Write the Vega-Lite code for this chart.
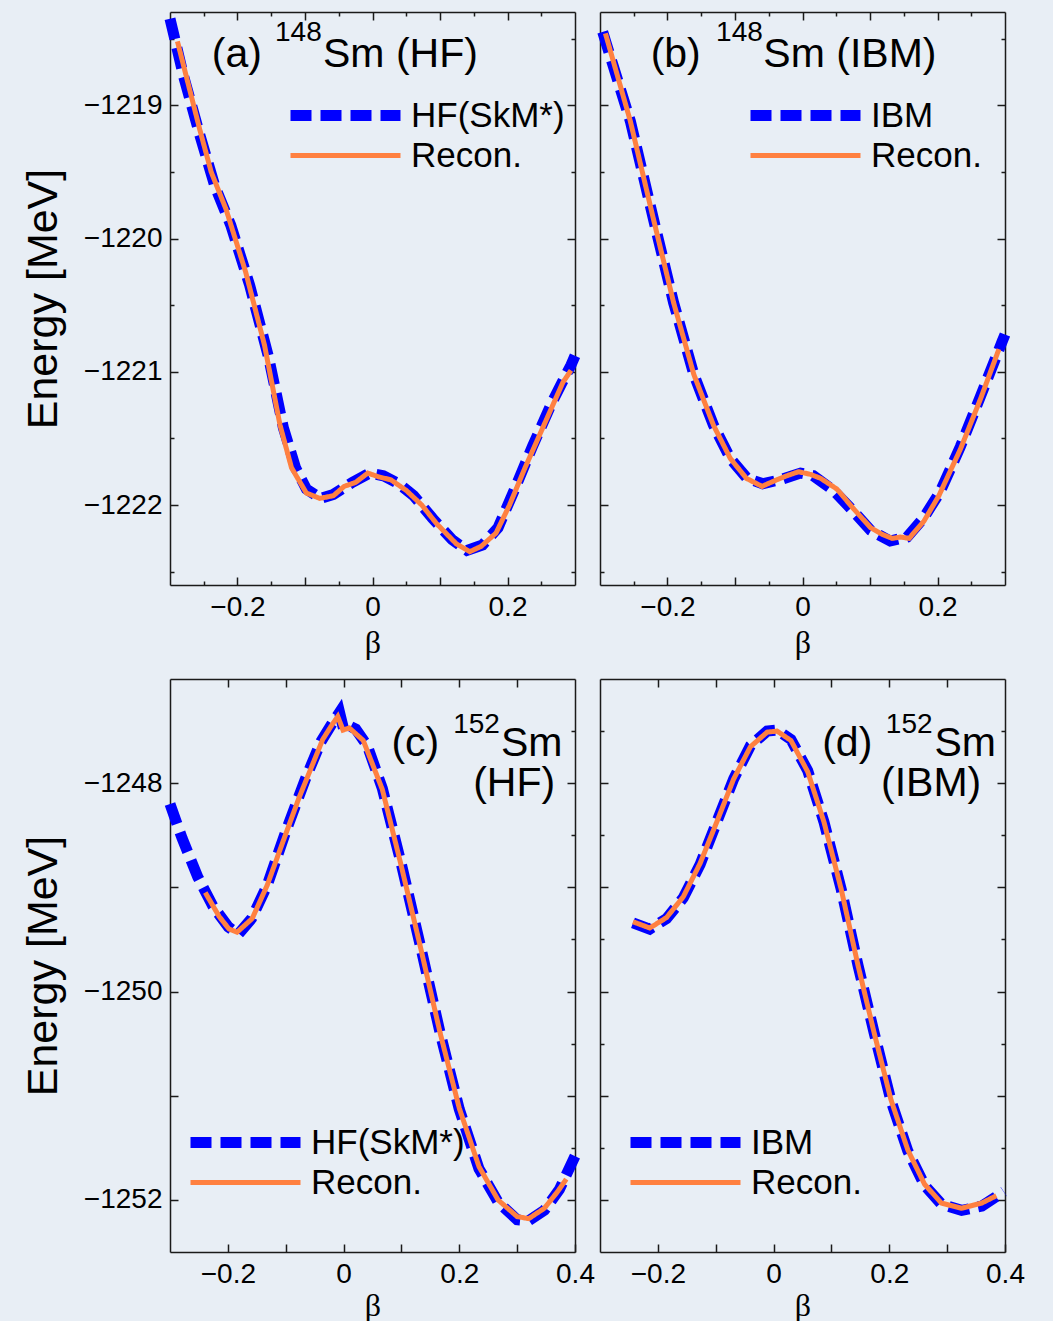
{
"$schema": "https://vega.github.io/schema/vega-lite/v6.json",
"background": "#e8eef5",
"padding": {"left": 22, "top": -4, "right": 30, "bottom": 0},
"config": {
  "view": {"stroke": null},
  "font": "Liberation Sans",
  "axis": {"domainColor": "#1a1a1a", "domainWidth": 1.5, "tickColor": "#1a1a1a", "tickWidth": 1.5, "labelFont": "Liberation Sans", "labelFontSize": 28, "labelColor": "#000000", "titleColor": "#000000", "titleFontWeight": "normal", "labelFlush": false, "labelOverlap": false, "grid": false},
  "legend": {"orient": "none", "title": null, "symbolType": "stroke", "symbolSize": 12100, "clipHeight": 39, "rowPadding": 1, "padding": 0, "labelFont": "Liberation Sans", "labelFontSize": 35, "labelColor": "#000000", "labelOffset": 5}
},
"datasets": {
  "one": [{}],
  "a": [
    {"series": "HF(SkM*)", "beta": -0.300, "E": -1218.35}, {"series": "HF(SkM*)", "beta": -0.280, "E": -1218.78}, {"series": "HF(SkM*)", "beta": -0.256, "E": -1219.22}, {"series": "HF(SkM*)", "beta": -0.234, "E": -1219.60}, {"series": "HF(SkM*)", "beta": -0.210, "E": -1219.90}, {"series": "HF(SkM*)", "beta": -0.182, "E": -1220.35}, {"series": "HF(SkM*)", "beta": -0.154, "E": -1220.89}, {"series": "HF(SkM*)", "beta": -0.132, "E": -1221.42}, {"series": "HF(SkM*)", "beta": -0.114, "E": -1221.72}, {"series": "HF(SkM*)", "beta": -0.098, "E": -1221.88}, {"series": "HF(SkM*)", "beta": -0.077, "E": -1221.95}, {"series": "HF(SkM*)", "beta": -0.058, "E": -1221.92}, {"series": "HF(SkM*)", "beta": -0.030, "E": -1221.83}, {"series": "HF(SkM*)", "beta": -0.004, "E": -1221.76}, {"series": "HF(SkM*)", "beta": 0.016, "E": -1221.78}, {"series": "HF(SkM*)", "beta": 0.039, "E": -1221.84}, {"series": "HF(SkM*)", "beta": 0.061, "E": -1221.93}, {"series": "HF(SkM*)", "beta": 0.089, "E": -1222.10}, {"series": "HF(SkM*)", "beta": 0.118, "E": -1222.26}, {"series": "HF(SkM*)", "beta": 0.140, "E": -1222.34}, {"series": "HF(SkM*)", "beta": 0.163, "E": -1222.30}, {"series": "HF(SkM*)", "beta": 0.186, "E": -1222.17}, {"series": "HF(SkM*)", "beta": 0.209, "E": -1221.90}, {"series": "HF(SkM*)", "beta": 0.237, "E": -1221.56}, {"series": "HF(SkM*)", "beta": 0.265, "E": -1221.24}, {"series": "HF(SkM*)", "beta": 0.294, "E": -1220.95}, {"series": "HF(SkM*)", "beta": 0.300, "E": -1220.88},
    {"series": "Recon.", "beta": -0.289, "E": -1218.52}, {"series": "Recon.", "beta": -0.256, "E": -1219.18}, {"series": "Recon.", "beta": -0.239, "E": -1219.50}, {"series": "Recon.", "beta": -0.217, "E": -1219.78}, {"series": "Recon.", "beta": -0.188, "E": -1220.25}, {"series": "Recon.", "beta": -0.160, "E": -1220.80}, {"series": "Recon.", "beta": -0.137, "E": -1221.40}, {"series": "Recon.", "beta": -0.120, "E": -1221.72}, {"series": "Recon.", "beta": -0.098, "E": -1221.91}, {"series": "Recon.", "beta": -0.078, "E": -1221.95}, {"series": "Recon.", "beta": -0.058, "E": -1221.93}, {"series": "Recon.", "beta": -0.042, "E": -1221.86}, {"series": "Recon.", "beta": -0.025, "E": -1221.83}, {"series": "Recon.", "beta": -0.007, "E": -1221.76}, {"series": "Recon.", "beta": 0.010, "E": -1221.79}, {"series": "Recon.", "beta": 0.027, "E": -1221.81}, {"series": "Recon.", "beta": 0.050, "E": -1221.89}, {"series": "Recon.", "beta": 0.073, "E": -1222.00}, {"series": "Recon.", "beta": 0.095, "E": -1222.14}, {"series": "Recon.", "beta": 0.124, "E": -1222.29}, {"series": "Recon.", "beta": 0.144, "E": -1222.35}, {"series": "Recon.", "beta": 0.161, "E": -1222.31}, {"series": "Recon.", "beta": 0.183, "E": -1222.21}, {"series": "Recon.", "beta": 0.203, "E": -1222.00}, {"series": "Recon.", "beta": 0.226, "E": -1221.72}, {"series": "Recon.", "beta": 0.254, "E": -1221.40}, {"series": "Recon.", "beta": 0.282, "E": -1221.08}, {"series": "Recon.", "beta": 0.294, "E": -1220.99}
  ],
  "b": [
    {"series": "IBM", "beta": -0.296, "E": -1218.45}, {"series": "IBM", "beta": -0.255, "E": -1219.12}, {"series": "IBM", "beta": -0.221, "E": -1219.85}, {"series": "IBM", "beta": -0.191, "E": -1220.48}, {"series": "IBM", "beta": -0.161, "E": -1221.02}, {"series": "IBM", "beta": -0.132, "E": -1221.40}, {"series": "IBM", "beta": -0.107, "E": -1221.65}, {"series": "IBM", "beta": -0.082, "E": -1221.80}, {"series": "IBM", "beta": -0.059, "E": -1221.84}, {"series": "IBM", "beta": -0.033, "E": -1221.81}, {"series": "IBM", "beta": -0.003, "E": -1221.76}, {"series": "IBM", "beta": 0.016, "E": -1221.78}, {"series": "IBM", "beta": 0.046, "E": -1221.89}, {"series": "IBM", "beta": 0.076, "E": -1222.05}, {"series": "IBM", "beta": 0.101, "E": -1222.19}, {"series": "IBM", "beta": 0.130, "E": -1222.27}, {"series": "IBM", "beta": 0.155, "E": -1222.24}, {"series": "IBM", "beta": 0.179, "E": -1222.10}, {"series": "IBM", "beta": 0.204, "E": -1221.90}, {"series": "IBM", "beta": 0.234, "E": -1221.56}, {"series": "IBM", "beta": 0.264, "E": -1221.18}, {"series": "IBM", "beta": 0.296, "E": -1220.77}, {"series": "IBM", "beta": 0.300, "E": -1220.72},
    {"series": "Recon.", "beta": -0.292, "E": -1218.46}, {"series": "Recon.", "beta": -0.255, "E": -1219.12}, {"series": "Recon.", "beta": -0.221, "E": -1219.85}, {"series": "Recon.", "beta": -0.191, "E": -1220.48}, {"series": "Recon.", "beta": -0.161, "E": -1221.02}, {"series": "Recon.", "beta": -0.132, "E": -1221.40}, {"series": "Recon.", "beta": -0.107, "E": -1221.65}, {"series": "Recon.", "beta": -0.083, "E": -1221.80}, {"series": "Recon.", "beta": -0.060, "E": -1221.86}, {"series": "Recon.", "beta": -0.038, "E": -1221.81}, {"series": "Recon.", "beta": -0.023, "E": -1221.78}, {"series": "Recon.", "beta": -0.006, "E": -1221.75}, {"series": "Recon.", "beta": 0.012, "E": -1221.77}, {"series": "Recon.", "beta": 0.027, "E": -1221.80}, {"series": "Recon.", "beta": 0.051, "E": -1221.88}, {"series": "Recon.", "beta": 0.076, "E": -1222.03}, {"series": "Recon.", "beta": 0.101, "E": -1222.17}, {"series": "Recon.", "beta": 0.118, "E": -1222.22}, {"series": "Recon.", "beta": 0.133, "E": -1222.25}, {"series": "Recon.", "beta": 0.145, "E": -1222.24}, {"series": "Recon.", "beta": 0.158, "E": -1222.25}, {"series": "Recon.", "beta": 0.180, "E": -1222.12}, {"series": "Recon.", "beta": 0.202, "E": -1221.93}, {"series": "Recon.", "beta": 0.234, "E": -1221.58}, {"series": "Recon.", "beta": 0.264, "E": -1221.20}, {"series": "Recon.", "beta": 0.291, "E": -1220.83}
  ],
  "c": [
    {"series": "HF(SkM*)", "beta": -0.300, "E": -1248.20}, {"series": "HF(SkM*)", "beta": -0.279, "E": -1248.53}, {"series": "HF(SkM*)", "beta": -0.252, "E": -1248.90}, {"series": "HF(SkM*)", "beta": -0.226, "E": -1249.18}, {"series": "HF(SkM*)", "beta": -0.199, "E": -1249.38}, {"series": "HF(SkM*)", "beta": -0.182, "E": -1249.45}, {"series": "HF(SkM*)", "beta": -0.159, "E": -1249.30}, {"series": "HF(SkM*)", "beta": -0.132, "E": -1248.98}, {"series": "HF(SkM*)", "beta": -0.099, "E": -1248.45}, {"series": "HF(SkM*)", "beta": -0.066, "E": -1247.96}, {"series": "HF(SkM*)", "beta": -0.039, "E": -1247.60}, {"series": "HF(SkM*)", "beta": -0.019, "E": -1247.42}, {"series": "HF(SkM*)", "beta": -0.007, "E": -1247.32}, {"series": "HF(SkM*)", "beta": 0.000, "E": -1247.48}, {"series": "HF(SkM*)", "beta": 0.010, "E": -1247.45}, {"series": "HF(SkM*)", "beta": 0.021, "E": -1247.48}, {"series": "HF(SkM*)", "beta": 0.041, "E": -1247.64}, {"series": "HF(SkM*)", "beta": 0.067, "E": -1248.05}, {"series": "HF(SkM*)", "beta": 0.100, "E": -1248.78}, {"series": "HF(SkM*)", "beta": 0.134, "E": -1249.59}, {"series": "HF(SkM*)", "beta": 0.167, "E": -1250.40}, {"series": "HF(SkM*)", "beta": 0.200, "E": -1251.13}, {"series": "HF(SkM*)", "beta": 0.234, "E": -1251.70}, {"series": "HF(SkM*)", "beta": 0.267, "E": -1252.02}, {"series": "HF(SkM*)", "beta": 0.300, "E": -1252.19}, {"series": "HF(SkM*)", "beta": 0.320, "E": -1252.20}, {"series": "HF(SkM*)", "beta": 0.347, "E": -1252.10}, {"series": "HF(SkM*)", "beta": 0.373, "E": -1251.90}, {"series": "HF(SkM*)", "beta": 0.400, "E": -1251.58},
    {"series": "Recon.", "beta": -0.239, "E": -1249.05}, {"series": "Recon.", "beta": -0.215, "E": -1249.28}, {"series": "Recon.", "beta": -0.198, "E": -1249.40}, {"series": "Recon.", "beta": -0.184, "E": -1249.43}, {"series": "Recon.", "beta": -0.158, "E": -1249.30}, {"series": "Recon.", "beta": -0.132, "E": -1248.98}, {"series": "Recon.", "beta": -0.106, "E": -1248.58}, {"series": "Recon.", "beta": -0.077, "E": -1248.14}, {"series": "Recon.", "beta": -0.036, "E": -1247.58}, {"series": "Recon.", "beta": -0.020, "E": -1247.44}, {"series": "Recon.", "beta": -0.010, "E": -1247.36}, {"series": "Recon.", "beta": -0.001, "E": -1247.49}, {"series": "Recon.", "beta": 0.010, "E": -1247.47}, {"series": "Recon.", "beta": 0.034, "E": -1247.59}, {"series": "Recon.", "beta": 0.067, "E": -1248.06}, {"series": "Recon.", "beta": 0.100, "E": -1248.80}, {"series": "Recon.", "beta": 0.134, "E": -1249.60}, {"series": "Recon.", "beta": 0.167, "E": -1250.40}, {"series": "Recon.", "beta": 0.200, "E": -1251.12}, {"series": "Recon.", "beta": 0.234, "E": -1251.68}, {"series": "Recon.", "beta": 0.267, "E": -1252.00}, {"series": "Recon.", "beta": 0.300, "E": -1252.16}, {"series": "Recon.", "beta": 0.320, "E": -1252.18}, {"series": "Recon.", "beta": 0.347, "E": -1252.08}, {"series": "Recon.", "beta": 0.370, "E": -1251.92}, {"series": "Recon.", "beta": 0.385, "E": -1251.80}
  ],
  "d": [
    {"series": "IBM", "beta": -0.243, "E": -1249.34}, {"series": "IBM", "beta": -0.214, "E": -1249.40}, {"series": "IBM", "beta": -0.185, "E": -1249.30}, {"series": "IBM", "beta": -0.156, "E": -1249.10}, {"series": "IBM", "beta": -0.127, "E": -1248.78}, {"series": "IBM", "beta": -0.098, "E": -1248.37}, {"series": "IBM", "beta": -0.069, "E": -1247.96}, {"series": "IBM", "beta": -0.040, "E": -1247.64}, {"series": "IBM", "beta": -0.011, "E": -1247.50}, {"series": "IBM", "beta": 0.006, "E": -1247.49}, {"series": "IBM", "beta": 0.030, "E": -1247.58}, {"series": "IBM", "beta": 0.059, "E": -1247.88}, {"series": "IBM", "beta": 0.087, "E": -1248.37}, {"series": "IBM", "beta": 0.117, "E": -1249.02}, {"series": "IBM", "beta": 0.146, "E": -1249.75}, {"series": "IBM", "beta": 0.174, "E": -1250.40}, {"series": "IBM", "beta": 0.203, "E": -1251.05}, {"series": "IBM", "beta": 0.232, "E": -1251.53}, {"series": "IBM", "beta": 0.261, "E": -1251.86}, {"series": "IBM", "beta": 0.290, "E": -1252.04}, {"series": "IBM", "beta": 0.325, "E": -1252.10}, {"series": "IBM", "beta": 0.360, "E": -1252.06}, {"series": "IBM", "beta": 0.398, "E": -1251.92},
    {"series": "Recon.", "beta": -0.243, "E": -1249.33}, {"series": "Recon.", "beta": -0.214, "E": -1249.39}, {"series": "Recon.", "beta": -0.185, "E": -1249.29}, {"series": "Recon.", "beta": -0.156, "E": -1249.09}, {"series": "Recon.", "beta": -0.127, "E": -1248.77}, {"series": "Recon.", "beta": -0.098, "E": -1248.37}, {"series": "Recon.", "beta": -0.069, "E": -1247.96}, {"series": "Recon.", "beta": -0.040, "E": -1247.65}, {"series": "Recon.", "beta": -0.011, "E": -1247.51}, {"series": "Recon.", "beta": 0.006, "E": -1247.50}, {"series": "Recon.", "beta": 0.030, "E": -1247.59}, {"series": "Recon.", "beta": 0.059, "E": -1247.89}, {"series": "Recon.", "beta": 0.087, "E": -1248.37}, {"series": "Recon.", "beta": 0.117, "E": -1249.02}, {"series": "Recon.", "beta": 0.146, "E": -1249.75}, {"series": "Recon.", "beta": 0.174, "E": -1250.40}, {"series": "Recon.", "beta": 0.203, "E": -1251.04}, {"series": "Recon.", "beta": 0.232, "E": -1251.52}, {"series": "Recon.", "beta": 0.261, "E": -1251.85}, {"series": "Recon.", "beta": 0.290, "E": -1252.03}, {"series": "Recon.", "beta": 0.325, "E": -1252.08}, {"series": "Recon.", "beta": 0.360, "E": -1252.03}, {"series": "Recon.", "beta": 0.385, "E": -1251.96}
  ]
},
"columns": 2,
"spacing": {"row": 94, "column": 25},
"bounds": "flush",
"resolve": {"scale": {"x": "independent", "y": "independent", "color": "independent", "strokeDash": "independent", "strokeWidth": "independent"}},
"concat": [
  {
    "width": 405, "height": 573,
    "data": {"name": "a"},
    "resolve": {"axis": {"x": "independent", "y": "independent"}},
    "layer": [
      {"mark": {"type": "line"},
       "encoding": {
         "x": {"field": "beta", "type": "quantitative", "scale": {"domain": [-0.3, 0.3], "nice": false, "zero": false},
               "axis": {"orient": "bottom", "values": [-0.25,-0.2,-0.15,-0.1,-0.05,0,0.05,0.1,0.15,0.2,0.25], "format": ".1~f", "labelExpr": "abs(datum.value*5-round(datum.value*5))<1e-6 ? datum.label : ''", "tickSize": {"condition": {"test": "abs(datum.value*10-round(datum.value*10))<1e-6", "value": -8}, "value": -4}, "labelPadding": 16, "title": "β", "titleFont": "Liberation Serif", "titleFontSize": 32, "titlePadding": 2}},
         "y": {"field": "E", "type": "quantitative", "scale": {"domain": [-1222.6, -1218.3], "nice": false, "zero": false},
               "axis": {"orient": "left", "values": [-1222, -1221, -1220, -1219], "format": "d", "tickSize": -8, "labelPadding": 16, "title": "Energy [MeV]", "titleFontSize": 43, "titlePadding": 18}},
         "color": {"field": "series", "type": "nominal", "scale": {"domain": ["HF(SkM*)", "Recon."], "range": ["#0000ff", "#ff8040"]}, "legend": {"legendX": 115, "legendY": 84}},
         "strokeDash": {"field": "series", "type": "nominal", "scale": {"domain": ["HF(SkM*)", "Recon."], "range": [[21, 9], [1, 0]]}},
         "strokeWidth": {"field": "series", "type": "nominal", "scale": {"domain": ["HF(SkM*)", "Recon."], "range": [11, 5]}}
       }},
      {"mark": {"type": "line", "strokeOpacity": 0},
       "encoding": {
         "x": {"field": "beta", "type": "quantitative", "scale": {"domain": [-0.3, 0.3], "nice": false, "zero": false},
               "axis": {"orient": "top", "values": [-0.25,-0.2,-0.15,-0.1,-0.05,0,0.05,0.1,0.15,0.2,0.25], "labels": false, "title": null, "tickSize": {"condition": {"test": "abs(datum.value*10-round(datum.value*10))<1e-6", "value": -8}, "value": -4}}},
         "y": {"field": "E", "type": "quantitative", "scale": {"domain": [-1222.6, -1218.3], "nice": false, "zero": false},
               "axis": {"orient": "right", "values": [-1222.5,-1222,-1221.5,-1221,-1220.5,-1220,-1219.5,-1219,-1218.5], "labels": false, "title": null, "tickSize": {"condition": {"test": "abs(datum.value-round(datum.value))<1e-6", "value": -8}, "value": -4}}},
         "detail": {"field": "series", "type": "nominal"}
       }},
      {"mark": {"type": "line", "strokeOpacity": 0},
       "encoding": {
         "x": {"field": "beta", "type": "quantitative", "scale": {"domain": [-0.3, 0.3], "nice": false, "zero": false}, "axis": null},
         "y": {"field": "E", "type": "quantitative", "scale": {"domain": [-1222.6, -1218.3], "nice": false, "zero": false},
               "axis": {"orient": "left", "values": [-1222.5,-1221.5,-1220.5,-1219.5,-1218.5], "labels": false, "domain": false, "title": null, "tickSize": -4}},
         "detail": {"field": "series", "type": "nominal"}
       }},
      {"data": {"name": "one"}, "mark": {"type": "text", "text": "(a)", "align": "left", "baseline": "alphabetic", "fontSize": 41, "fill": "#000000"},
       "encoding": {"x": {"datum": -0.238, "type": "quantitative", "scale": {"domain": [-0.3, 0.3], "nice": false, "zero": false}, "axis": null}, "y": {"datum": -1218.71, "type": "quantitative", "scale": {"domain": [-1222.6, -1218.3], "nice": false, "zero": false}, "axis": null}}},
      {"data": {"name": "one"}, "mark": {"type": "text", "text": "148", "align": "left", "baseline": "alphabetic", "fontSize": 28, "fill": "#000000"},
       "encoding": {"x": {"datum": -0.1444, "type": "quantitative", "scale": {"domain": [-0.3, 0.3], "nice": false, "zero": false}, "axis": null}, "y": {"datum": -1218.52, "type": "quantitative", "scale": {"domain": [-1222.6, -1218.3], "nice": false, "zero": false}, "axis": null}}},
      {"data": {"name": "one"}, "mark": {"type": "text", "text": "Sm (HF)", "align": "left", "baseline": "alphabetic", "fontSize": 41, "fill": "#000000"},
       "encoding": {"x": {"datum": -0.0733, "type": "quantitative", "scale": {"domain": [-0.3, 0.3], "nice": false, "zero": false}, "axis": null}, "y": {"datum": -1218.71, "type": "quantitative", "scale": {"domain": [-1222.6, -1218.3], "nice": false, "zero": false}, "axis": null}}}
    ]
  },
  {
    "width": 405, "height": 573,
    "data": {"name": "b"},
    "resolve": {"axis": {"x": "independent", "y": "independent"}},
    "layer": [
      {"mark": {"type": "line"},
       "encoding": {
         "x": {"field": "beta", "type": "quantitative", "scale": {"domain": [-0.3, 0.3], "nice": false, "zero": false},
               "axis": {"orient": "bottom", "values": [-0.25,-0.2,-0.15,-0.1,-0.05,0,0.05,0.1,0.15,0.2,0.25], "format": ".1~f", "labelExpr": "abs(datum.value*5-round(datum.value*5))<1e-6 ? datum.label : ''", "tickSize": {"condition": {"test": "abs(datum.value*10-round(datum.value*10))<1e-6", "value": -8}, "value": -4}, "labelPadding": 16, "title": "β", "titleFont": "Liberation Serif", "titleFontSize": 32, "titlePadding": 2}},
         "y": {"field": "E", "type": "quantitative", "scale": {"domain": [-1222.6, -1218.3], "nice": false, "zero": false},
               "axis": {"orient": "left", "values": [-1222.5,-1222,-1221.5,-1221,-1220.5,-1220,-1219.5,-1219,-1218.5], "labels": false, "title": null, "tickSize": {"condition": {"test": "abs(datum.value-round(datum.value))<1e-6", "value": -8}, "value": -4}}},
         "color": {"field": "series", "type": "nominal", "scale": {"domain": ["IBM", "Recon."], "range": ["#0000ff", "#ff8040"]}, "legend": {"legendX": 145, "legendY": 84}},
         "strokeDash": {"field": "series", "type": "nominal", "scale": {"domain": ["IBM", "Recon."], "range": [[21, 9], [1, 0]]}},
         "strokeWidth": {"field": "series", "type": "nominal", "scale": {"domain": ["IBM", "Recon."], "range": [11, 5]}}
       }},
      {"mark": {"type": "line", "strokeOpacity": 0},
       "encoding": {
         "x": {"field": "beta", "type": "quantitative", "scale": {"domain": [-0.3, 0.3], "nice": false, "zero": false},
               "axis": {"orient": "top", "values": [-0.25,-0.2,-0.15,-0.1,-0.05,0,0.05,0.1,0.15,0.2,0.25], "labels": false, "title": null, "tickSize": {"condition": {"test": "abs(datum.value*10-round(datum.value*10))<1e-6", "value": -8}, "value": -4}}},
         "y": {"field": "E", "type": "quantitative", "scale": {"domain": [-1222.6, -1218.3], "nice": false, "zero": false},
               "axis": {"orient": "right", "values": [-1222.5,-1222,-1221.5,-1221,-1220.5,-1220,-1219.5,-1219,-1218.5], "labels": false, "title": null, "tickSize": {"condition": {"test": "abs(datum.value-round(datum.value))<1e-6", "value": -8}, "value": -4}}},
         "detail": {"field": "series", "type": "nominal"}
       }},
      {"data": {"name": "one"}, "mark": {"type": "text", "text": "(b)", "align": "left", "baseline": "alphabetic", "fontSize": 41, "fill": "#000000"},
       "encoding": {"x": {"datum": -0.225, "type": "quantitative", "scale": {"domain": [-0.3, 0.3], "nice": false, "zero": false}, "axis": null}, "y": {"datum": -1218.71, "type": "quantitative", "scale": {"domain": [-1222.6, -1218.3], "nice": false, "zero": false}, "axis": null}}},
      {"data": {"name": "one"}, "mark": {"type": "text", "text": "148", "align": "left", "baseline": "alphabetic", "fontSize": 28, "fill": "#000000"},
       "encoding": {"x": {"datum": -0.128, "type": "quantitative", "scale": {"domain": [-0.3, 0.3], "nice": false, "zero": false}, "axis": null}, "y": {"datum": -1218.52, "type": "quantitative", "scale": {"domain": [-1222.6, -1218.3], "nice": false, "zero": false}, "axis": null}}},
      {"data": {"name": "one"}, "mark": {"type": "text", "text": "Sm (IBM)", "align": "left", "baseline": "alphabetic", "fontSize": 41, "fill": "#000000"},
       "encoding": {"x": {"datum": -0.058, "type": "quantitative", "scale": {"domain": [-0.3, 0.3], "nice": false, "zero": false}, "axis": null}, "y": {"datum": -1218.71, "type": "quantitative", "scale": {"domain": [-1222.6, -1218.3], "nice": false, "zero": false}, "axis": null}}}
    ]
  },
  {
    "width": 405, "height": 573,
    "data": {"name": "c"},
    "resolve": {"axis": {"x": "independent", "y": "independent"}},
    "layer": [
      {"mark": {"type": "line"},
       "encoding": {
         "x": {"field": "beta", "type": "quantitative", "scale": {"domain": [-0.3, 0.4], "nice": false, "zero": false},
               "axis": {"orient": "bottom", "values": [-0.2,-0.1,0,0.1,0.2,0.3,0.4], "format": ".1~f", "labelExpr": "abs(datum.value*5-round(datum.value*5))<1e-6 ? datum.label : ''", "tickSize": -8, "labelPadding": 16, "title": "β", "titleFont": "Liberation Serif", "titleFontSize": 32, "titlePadding": 2}},
         "y": {"field": "E", "type": "quantitative", "scale": {"domain": [-1252.5, -1247], "nice": false, "zero": false},
               "axis": {"orient": "left", "values": [-1252,-1251.5,-1251,-1250.5,-1250,-1249.5,-1249,-1248.5,-1248,-1247.5], "format": "d", "labelExpr": "datum.value % 2 == 0 ? datum.label : ''", "tickSize": {"condition": {"test": "abs(datum.value-round(datum.value))<1e-6", "value": -8}, "value": -4}, "labelPadding": 16, "title": "Energy [MeV]", "titleFontSize": 43, "titlePadding": 18}},
         "color": {"field": "series", "type": "nominal", "scale": {"domain": ["HF(SkM*)", "Recon."], "range": ["#0000ff", "#ff8040"]}, "legend": {"legendX": 15, "legendY": 444}},
         "strokeDash": {"field": "series", "type": "nominal", "scale": {"domain": ["HF(SkM*)", "Recon."], "range": [[21, 9], [1, 0]]}},
         "strokeWidth": {"field": "series", "type": "nominal", "scale": {"domain": ["HF(SkM*)", "Recon."], "range": [11, 5]}}
       }},
      {"mark": {"type": "line", "strokeOpacity": 0},
       "encoding": {
         "x": {"field": "beta", "type": "quantitative", "scale": {"domain": [-0.3, 0.4], "nice": false, "zero": false},
               "axis": {"orient": "top", "values": [-0.2,-0.1,0,0.1,0.2,0.3], "labels": false, "title": null, "tickSize": -8}},
         "y": {"field": "E", "type": "quantitative", "scale": {"domain": [-1252.5, -1247], "nice": false, "zero": false},
               "axis": {"orient": "right", "values": [-1252,-1251.5,-1251,-1250.5,-1250,-1249.5,-1249,-1248.5,-1248,-1247.5], "labels": false, "title": null, "tickSize": {"condition": {"test": "abs(datum.value-round(datum.value))<1e-6", "value": -8}, "value": -4}}},
         "detail": {"field": "series", "type": "nominal"}
       }},
      {"data": {"name": "one"}, "mark": {"type": "text", "text": "(c)", "align": "left", "baseline": "alphabetic", "fontSize": 41, "fill": "#000000"},
       "encoding": {"x": {"datum": 0.0827, "type": "quantitative", "scale": {"domain": [-0.3, 0.4], "nice": false, "zero": false}, "axis": null}, "y": {"datum": -1247.735, "type": "quantitative", "scale": {"domain": [-1252.5, -1247], "nice": false, "zero": false}, "axis": null}}},
      {"data": {"name": "one"}, "mark": {"type": "text", "text": "152", "align": "left", "baseline": "alphabetic", "fontSize": 28, "fill": "#000000"},
       "encoding": {"x": {"datum": 0.1894, "type": "quantitative", "scale": {"domain": [-0.3, 0.4], "nice": false, "zero": false}, "axis": null}, "y": {"datum": -1247.514, "type": "quantitative", "scale": {"domain": [-1252.5, -1247], "nice": false, "zero": false}, "axis": null}}},
      {"data": {"name": "one"}, "mark": {"type": "text", "text": "Sm", "align": "left", "baseline": "alphabetic", "fontSize": 41, "fill": "#000000"},
       "encoding": {"x": {"datum": 0.272, "type": "quantitative", "scale": {"domain": [-0.3, 0.4], "nice": false, "zero": false}, "axis": null}, "y": {"datum": -1247.735, "type": "quantitative", "scale": {"domain": [-1252.5, -1247], "nice": false, "zero": false}, "axis": null}}},
      {"data": {"name": "one"}, "mark": {"type": "text", "text": "(HF)", "align": "right", "baseline": "alphabetic", "fontSize": 41, "fill": "#000000"},
       "encoding": {"x": {"datum": 0.3656, "type": "quantitative", "scale": {"domain": [-0.3, 0.4], "nice": false, "zero": false}, "axis": null}, "y": {"datum": -1248.119, "type": "quantitative", "scale": {"domain": [-1252.5, -1247], "nice": false, "zero": false}, "axis": null}}}
    ]
  },
  {
    "width": 405, "height": 573,
    "data": {"name": "d"},
    "resolve": {"axis": {"x": "independent", "y": "independent"}},
    "layer": [
      {"mark": {"type": "line"},
       "encoding": {
         "x": {"field": "beta", "type": "quantitative", "scale": {"domain": [-0.3, 0.4], "nice": false, "zero": false},
               "axis": {"orient": "bottom", "values": [-0.2,-0.1,0,0.1,0.2,0.3,0.4], "format": ".1~f", "labelExpr": "abs(datum.value*5-round(datum.value*5))<1e-6 ? datum.label : ''", "tickSize": -8, "labelPadding": 16, "title": "β", "titleFont": "Liberation Serif", "titleFontSize": 32, "titlePadding": 2}},
         "y": {"field": "E", "type": "quantitative", "scale": {"domain": [-1252.5, -1247], "nice": false, "zero": false},
               "axis": {"orient": "left", "values": [-1252,-1251.5,-1251,-1250.5,-1250,-1249.5,-1249,-1248.5,-1248,-1247.5], "labels": false, "title": null, "tickSize": {"condition": {"test": "abs(datum.value-round(datum.value))<1e-6", "value": -8}, "value": -4}}},
         "color": {"field": "series", "type": "nominal", "scale": {"domain": ["IBM", "Recon."], "range": ["#0000ff", "#ff8040"]}, "legend": {"legendX": 25, "legendY": 444}},
         "strokeDash": {"field": "series", "type": "nominal", "scale": {"domain": ["IBM", "Recon."], "range": [[21, 9], [1, 0]]}},
         "strokeWidth": {"field": "series", "type": "nominal", "scale": {"domain": ["IBM", "Recon."], "range": [11, 5]}}
       }},
      {"mark": {"type": "line", "strokeOpacity": 0},
       "encoding": {
         "x": {"field": "beta", "type": "quantitative", "scale": {"domain": [-0.3, 0.4], "nice": false, "zero": false},
               "axis": {"orient": "top", "values": [-0.2,-0.1,0,0.1,0.2,0.3], "labels": false, "title": null, "tickSize": -8}},
         "y": {"field": "E", "type": "quantitative", "scale": {"domain": [-1252.5, -1247], "nice": false, "zero": false},
               "axis": {"orient": "right", "values": [-1252,-1251.5,-1251,-1250.5,-1250,-1249.5,-1249,-1248.5,-1248,-1247.5], "labels": false, "title": null, "tickSize": {"condition": {"test": "abs(datum.value-round(datum.value))<1e-6", "value": -8}, "value": -4}}},
         "detail": {"field": "series", "type": "nominal"}
       }},
      {"data": {"name": "one"}, "mark": {"type": "text", "text": "(d)", "align": "left", "baseline": "alphabetic", "fontSize": 41, "fill": "#000000"},
       "encoding": {"x": {"datum": 0.084, "type": "quantitative", "scale": {"domain": [-0.3, 0.4], "nice": false, "zero": false}, "axis": null}, "y": {"datum": -1247.735, "type": "quantitative", "scale": {"domain": [-1252.5, -1247], "nice": false, "zero": false}, "axis": null}}},
      {"data": {"name": "one"}, "mark": {"type": "text", "text": "152", "align": "left", "baseline": "alphabetic", "fontSize": 28, "fill": "#000000"},
       "encoding": {"x": {"datum": 0.194, "type": "quantitative", "scale": {"domain": [-0.3, 0.4], "nice": false, "zero": false}, "axis": null}, "y": {"datum": -1247.514, "type": "quantitative", "scale": {"domain": [-1252.5, -1247], "nice": false, "zero": false}, "axis": null}}},
      {"data": {"name": "one"}, "mark": {"type": "text", "text": "Sm", "align": "left", "baseline": "alphabetic", "fontSize": 41, "fill": "#000000"},
       "encoding": {"x": {"datum": 0.278, "type": "quantitative", "scale": {"domain": [-0.3, 0.4], "nice": false, "zero": false}, "axis": null}, "y": {"datum": -1247.735, "type": "quantitative", "scale": {"domain": [-1252.5, -1247], "nice": false, "zero": false}, "axis": null}}},
      {"data": {"name": "one"}, "mark": {"type": "text", "text": "(IBM)", "align": "right", "baseline": "alphabetic", "fontSize": 41, "fill": "#000000"},
       "encoding": {"x": {"datum": 0.359, "type": "quantitative", "scale": {"domain": [-0.3, 0.4], "nice": false, "zero": false}, "axis": null}, "y": {"datum": -1248.119, "type": "quantitative", "scale": {"domain": [-1252.5, -1247], "nice": false, "zero": false}, "axis": null}}}
    ]
  }
]
}
